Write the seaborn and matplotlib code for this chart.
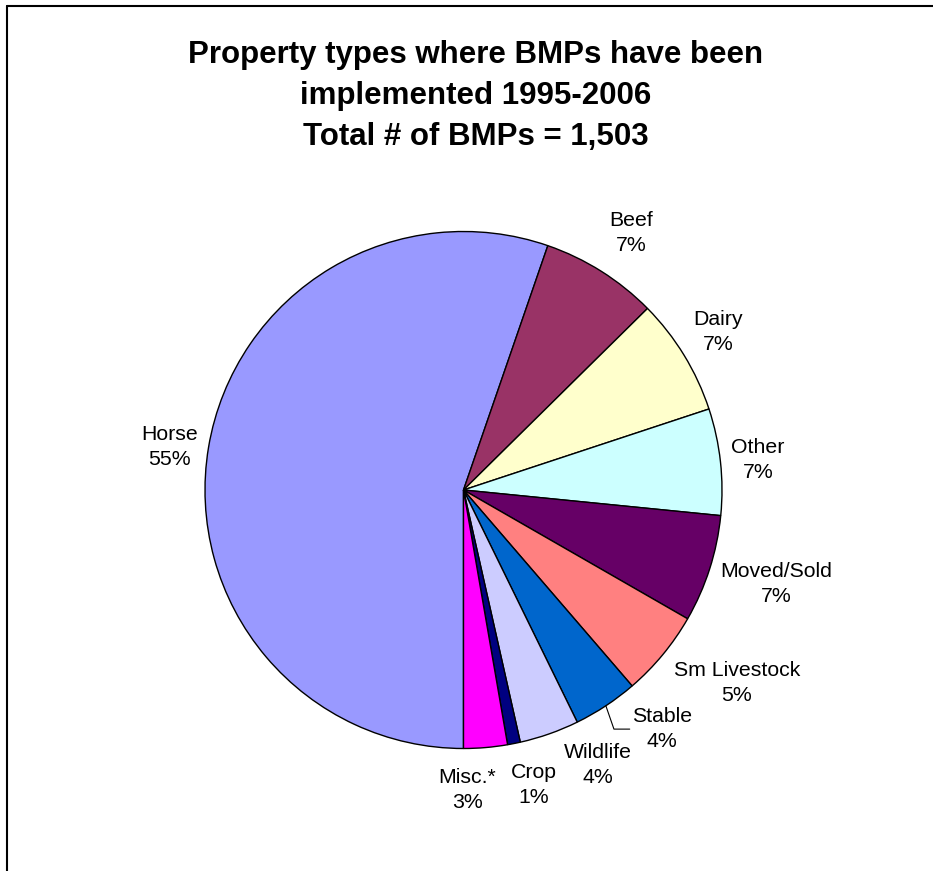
import numpy as np
import matplotlib
matplotlib.use("Agg")
import matplotlib.pyplot as plt
import seaborn as sns
from matplotlib.lines import Line2D

# BMP counts by property type (total 1,503), clockwise from 6 o'clock
categories = ["Horse", "Beef", "Dairy", "Other", "Moved/Sold",
              "Sm Livestock", "Stable", "Wildlife", "Crop", "Misc.*"]
counts = [831, 110, 110, 100, 101, 81, 61, 56, 12, 41]
colors = ["#9999FF", "#993366", "#FFFFCC", "#CCFFFF", "#660066",
          "#FF8080", "#0066CC", "#CCCCFF", "#000080", "#FF00FF"]

# label centres (pie units, radius = 1)
label_pos = [(-1.137, 0.166), (0.648, 0.994), (0.985, 0.611), (1.139, 0.116),
             (1.211, -0.364), (1.058, -0.747), (0.768, -0.925), (0.520, -1.064),
             (0.273, -1.141), (0.014, -1.161)]

sns.set_theme(style="white")
plt.rcParams['font.family'] = ['Liberation Sans', 'DejaVu Sans']
plt.rcParams['text.color'] = 'black'

W, H = 933, 871
fig = plt.figure(figsize=(W / 100, H / 100), dpi=100)
fig.patch.set_facecolor("white")

cx, cy, R = 463.5, 490, 258.5
ax = fig.add_axes([(cx - R) / W, (H - cy - R) / H, 2 * R / W, 2 * R / H])

wedges, _ = ax.pie(counts, colors=colors, startangle=270, counterclock=False,
                   wedgeprops=dict(edgecolor="black", linewidth=1.0))
ax.set_xlim(-1, 1)
ax.set_ylim(-1, 1)
ax.set_aspect("equal")
ax.axis("off")

total = sum(counts)
for name, n, (lx, ly) in zip(categories, counts, label_pos):
    pct = round(100 * n / total)
    ax.text(lx, ly, f"{name}\n{pct}%", ha="center", va="center", color="black",
            fontsize=15.3, linespacing=1.45, clip_on=False)

# leader line for Stable
w = wedges[categories.index("Stable")]
mid = np.deg2rad((w.theta1 + w.theta2) / 2)
sx, sy = np.cos(mid), np.sin(mid)
ax.plot([sx, 0.582, 0.643], [sy, -0.925, -0.925], color="black",
        lw=0.8, clip_on=False)

fig.text(476 / W, 1 - 96 / H,
         "Property types where BMPs have been\nimplemented 1995-2006\nTotal # of BMPs = 1,503",
         ha="center", va="center", color="black", fontsize=22.5,
         fontweight="bold", linespacing=1.48)

# chart frame (left and top edges visible)
fig.add_artist(Line2D([7 / W, 7 / W], [0, 1 - 6 / H], color="black", lw=1.5,
                      transform=fig.transFigure))
fig.add_artist(Line2D([7 / W, 1], [1 - 6 / H, 1 - 6 / H], color="black", lw=1.5,
                      transform=fig.transFigure))

fig.savefig("out.png", dpi=100, facecolor="white")
